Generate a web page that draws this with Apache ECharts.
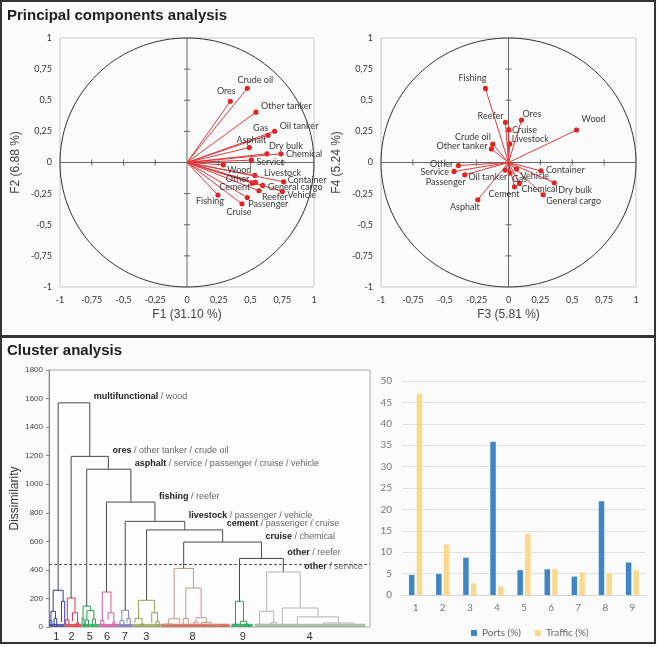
<!DOCTYPE html>
<html>
<head>
<meta charset="utf-8">
<script src="https://cdn.jsdelivr.net/npm/echarts@6/dist/echarts.min.js"></script>
<style>
  html, body { margin: 0; padding: 0; background: #fbfbfb; }
  #main { width: 659px; height: 647px; }
</style>
</head>
<body>
<div id="main"></div>
<script>
// PCA loadings (same order in all arrays)
var pcaNames = ['Crude oil', 'Ores', 'Other tanker', 'Oil tanker', 'Gas', 'Asphalt', 'Dry bulk', 'Chemical',
  'Service', 'Wood', 'Livestock', 'Container', 'Other', 'General cargo', 'Cement', 'Reefer', 'Vehicle',
  'Passenger', 'Cruise', 'Fishing'];
var f1 = [0.475, 0.341, 0.543, 0.690, 0.638, 0.491, 0.630, 0.740, 0.507, 0.286, 0.535, 0.761, 0.538, 0.596, 0.514, 0.567, 0.751, 0.475, 0.433, 0.244];
var f2 = [0.596, 0.492, 0.404, 0.251, 0.219, 0.120, 0.070, 0.070, 0.019, -0.019, -0.104, -0.155, -0.160, -0.184, -0.166, -0.227, -0.233, -0.281, -0.332, -0.262];
var f3 = [-0.123, 0.102, -0.134, -0.026, 0.013, -0.241, 0.359, 0.086, -0.427, 0.534, 0.010, 0.254, -0.393, 0.272, 0.047, -0.024, 0.063, -0.343, 0.003, -0.181];
var f4 = [0.147, 0.341, 0.109, -0.061, -0.085, -0.299, -0.163, -0.168, -0.072, 0.261, 0.149, -0.067, -0.024, -0.259, -0.195, 0.323, -0.053, -0.099, 0.264, 0.595];
var pcaTicks = [-1, -0.75, -0.5, -0.25, 0, 0.25, 0.5, 0.75, 1];

// label placement [align, dx, dy] per variable
var lab12 = [['center', 8, -8], ['center', -4, -10], ['left', 5, -6], ['left', 5, -5], ['right', 0, -7],
  ['center', 2, -7], ['left', 2, -8], ['left', 5, 0], ['left', 5, 2], ['left', 4, 5], ['left', 9, -2],
  ['left', 4, -2], ['right', -6, -3], ['left', 5, 2], ['right', -2, 4], ['left', 3, 6], ['left', 5, 4],
  ['left', 1, 7], ['center', -3, 8], ['center', -8, 6]];
var lab34 = [['right', -2, -7], ['left', 1, -6], ['right', -4, -3], ['right', 2, 7], ['left', 2, 6],
  ['right', 2, 7], ['left', 4, 7], ['left', 2, 6], ['right', -5, 1], ['left', 5, -11], ['left', 2, -5],
  ['left', 5, -1], ['right', -5, -1], ['left', 3, 6], ['right', 5, 7], ['right', -2, -6], ['left', 4, 7],
  ['right', 1, 7], ['left', 3, 0], ['right', 1, -10]];

// dendrogram: upper merges
var mergeHeights = [1570, 1195, 1105, 875, 740, 680, 595, 480, 385];
var mergeLeft = [2.85, 6.9, 11.75, 17.9, 23.75, 30.4, 41.95, 59.35, 67.8];
var mergeRight = [12.7, 18.5, 25.5, 33.0, 42.3, 54.1, 66.2, 73.0, 78.25];
var mergeLeftChild = [257, 203, 146, 245, 117, 187, 410, 180, 110];
var mergeRightChild = [1195, 1105, 875, 740, 680, 595, 480, 385, 133];
var mergeBold = ['multifunctional', 'ores', 'asphalt', 'fishing', 'livestock', 'cement', 'cruise', 'other', 'other'];
var mergeRest = ['wood', 'other tanker / crude oil', 'service / passenger / cruise / vehicle', 'reefer',
  'passenger / vehicle', 'passenger / cruise', 'chemical', 'reefer', 'service'];
var cutHeight = 440;

// clusters, left to right
var clusterNames = ['1', '2', '5', '6', '7', '3', '8', '9', '4'];
var clusterPos = [2.3, 7.0, 12.7, 18.1, 23.6, 30.3, 44.7, 60.4, 81.2];
var clusterStart = [0.2, 4.9, 10.1, 15.8, 21.5, 26.1, 35.1, 56.8, 64.0];
var clusterEnd = [4.9, 10.1, 15.8, 21.5, 26.1, 35.1, 56.3, 63.5, 98.5];
// [xLeft, hLeft, xRight, hRight, h, cluster]
var subLinks = [
  [1.3, 110, 4.4, 180, 257, 0], [0.6, 45, 2.0, 60, 110, 0], [3.9, 35, 4.9, 20, 180, 0], [1.6, 15, 2.4, 10, 60, 0], [0.3, 0, 0.9, 10, 45, 0],
  [5.7, 50, 8.1, 100, 203, 1], [5.2, 20, 6.2, 15, 50, 1], [7.3, 40, 8.9, 30, 100, 1], [8.6, 5, 9.2, 10, 30, 1],
  [10.6, 60, 12.9, 115, 146, 2], [10.3, 20, 10.9, 10, 60, 2], [11.8, 50, 14.0, 55, 115, 2], [13.5, 10, 14.5, 20, 55, 2], [11.3, 5, 12.3, 15, 50, 2],
  [16.6, 45, 19.3, 100, 245, 3], [16.1, 15, 17.1, 20, 45, 3], [18.4, 50, 20.2, 30, 100, 3], [19.8, 10, 20.6, 5, 30, 3],
  [22.7, 45, 24.8, 60, 117, 4], [22.1, 10, 23.3, 20, 45, 4], [24.3, 30, 25.3, 15, 60, 4],
  [27.9, 60, 32.9, 100, 187, 5], [26.8, 30, 29.0, 20, 60, 5], [32.0, 30, 33.8, 40, 100, 5], [28.5, 5, 29.5, 10, 20, 5], [33.3, 10, 34.3, 5, 40, 5],
  [39.0, 58, 45.0, 273, 410, 6], [37.3, 20, 40.7, 25, 58, 6], [36.0, 5, 38.6, 10, 20, 6], [42.6, 60, 47.4, 65, 273, 6], [41.8, 10, 43.4, 15, 60, 6],
  [45.8, 35, 49.0, 32, 65, 6], [45.2, 5, 46.4, 10, 35, 6], [47.5, 10, 50.5, 15, 32, 6], [49.5, 5, 53.0, 8, 15, 6],
  [58.1, 20, 60.6, 40, 180, 7], [57.4, 5, 58.8, 10, 20, 7], [59.6, 15, 61.6, 20, 40, 7], [61.0, 5, 62.2, 0, 20, 7],
  [65.6, 20, 70.0, 30, 110, 8], [64.8, 5, 66.4, 10, 20, 8], [69.0, 10, 71.0, 15, 30, 8], [72.7, 15, 83.8, 71, 133, 8], [71.8, 0, 73.6, 5, 15, 8],
  [77.4, 10, 90.2, 28, 71, 8], [76.6, 0, 78.2, 5, 10, 8], [85.5, 15, 94.9, 10, 28, 8], [93.5, 0, 96.3, 5, 10, 8]
];
var clusterColors = ['#34409a', '#e0304a', '#22a052', '#d45aa6', '#8282b4', '#95a05a', '#c99585', '#22a052', '#b4b4b4'];
var clusterBase = ['#2a2f8f', '#e0203a', '#12a048', '#d0409c', '#6a6aa8', '#8c9a40', '#cf4a34', '#12a048', '#9aa89a'];

// bar chart
var barCats = ['1', '2', '3', '4', '5', '6', '7', '8', '9'];
var ports = [4.7, 4.9, 8.7, 35.8, 5.8, 6.0, 4.3, 21.9, 7.6];
var traffic = [47.0, 11.8, 2.7, 2.0, 14.3, 6.0, 5.3, 5.1, 5.8];

var chart = echarts.init(document.getElementById('main'));

function fmtComma(v) { return String(v).replace('.', ','); }

function frameRender(params, api) {
  var c = [];
  var pts = [];
  for (var i = 0; i <= 144; i++) {
    var a = i / 144 * 2 * Math.PI;
    pts.push(api.coord([Math.cos(a), Math.sin(a)]));
  }
  c.push({ type: 'polyline', shape: { points: pts }, style: { stroke: '#333', fill: null, lineWidth: 1 } });
  var l = api.coord([-1, 0]), r = api.coord([1, 0]), b = api.coord([0, -1]), t = api.coord([0, 1]);
  c.push({ type: 'line', shape: { x1: l[0], y1: l[1], x2: r[0], y2: r[1] }, style: { stroke: '#666', lineWidth: 1 } });
  c.push({ type: 'line', shape: { x1: b[0], y1: b[1], x2: t[0], y2: t[1] }, style: { stroke: '#666', lineWidth: 1 } });
  pcaTicks.forEach(function (v) {
    if (v === 0 || Math.abs(v) === 1) return;
    var p = api.coord([v, 0]);
    c.push({ type: 'line', shape: { x1: p[0], y1: p[1] - 3, x2: p[0], y2: p[1] + 3 }, style: { stroke: '#666', lineWidth: 1 } });
    var q = api.coord([0, v]);
    c.push({ type: 'line', shape: { x1: q[0] - 3, y1: q[1], x2: q[0] + 3, y2: q[1] }, style: { stroke: '#666', lineWidth: 1 } });
  });
  return { type: 'group', children: c };
}

function vectorRender(labels) {
  return function (params, api) {
    var i = api.value(2);
    var o = api.coord([0, 0]);
    var p = api.coord([api.value(0), api.value(1)]);
    var lp = labels[i];
    return {
      type: 'group',
      children: [
        { type: 'line', shape: { x1: o[0], y1: o[1], x2: p[0], y2: p[1] }, style: { stroke: '#e23b3b', lineWidth: 1 } },
        { type: 'circle', shape: { cx: p[0], cy: p[1], r: 2.6 }, style: { fill: '#e02424' } },
        { type: 'text', x: p[0] + lp[1], y: p[1] + lp[2], z2: 5,
          style: { text: pcaNames[i], align: lp[0], verticalAlign: 'middle', fontSize: 9, fontFamily: 'Lato', fill: '#3a3a3a' } }
      ]
    };
  };
}

function linkRender(colorFn) {
  return function (params, api) {
    var xl = api.value(0), hl = api.value(1), xr = api.value(2), hr = api.value(3), h = api.value(4);
    var pts = [[xl, hl], [xl, h], [xr, h], [xr, hr]].map(function (p) { return api.coord(p); });
    return { type: 'polyline', shape: { points: pts }, style: { stroke: colorFn(api), fill: null, lineWidth: 1 } };
  };
}

function pcaX(gi, name) {
  return {
    gridIndex: gi, type: 'value', min: -1, max: 1, interval: 0.25,
    name: name, nameLocation: 'middle', nameGap: 22,
    nameTextStyle: { fontSize: 12, color: '#444', fontFamily: 'Liberation Sans' },
    axisLine: { show: false, onZero: false }, axisTick: { show: false }, splitLine: { show: false },
    axisLabel: { formatter: fmtComma, fontSize: 9, color: '#333', margin: 9, fontFamily: 'Lato' }
  };
}
function pcaY(gi, name) {
  return {
    gridIndex: gi, type: 'value', min: -1, max: 1, interval: 0.25,
    name: name, nameLocation: 'middle', nameGap: 38,
    nameTextStyle: { fontSize: 12, color: '#444', fontFamily: 'Liberation Sans' },
    axisLine: { show: false, onZero: false }, axisTick: { show: false }, splitLine: { show: false },
    axisLabel: { formatter: fmtComma, fontSize: 9, color: '#333', margin: 8, fontFamily: 'Lato' }
  };
}

var option = {
  backgroundColor: '#fbfbfb',
  animation: false,
  title: [
    { text: 'Principal components analysis', left: 7, top: 8, padding: 0,
      textStyle: { fontSize: 15, fontWeight: 'bold', color: '#1e1e1e', fontFamily: 'Liberation Sans' } },
    { text: 'Cluster analysis', left: 7, top: 343, padding: 0,
      textStyle: { fontSize: 15, fontWeight: 'bold', color: '#1e1e1e', fontFamily: 'Liberation Sans' } }
  ],
  graphic: [
    { type: 'rect', shape: { x: 1, y: 1, width: 654, height: 335 }, style: { fill: null, stroke: '#333', lineWidth: 2 }, silent: true },
    { type: 'rect', shape: { x: 1, y: 337, width: 654, height: 306 }, style: { fill: null, stroke: '#333', lineWidth: 2 }, silent: true }
  ],
  grid: [
    { left: 60, top: 38, width: 254, height: 249, show: true, borderColor: '#c8c8c8', backgroundColor: 'transparent' },
    { left: 381, top: 38, width: 255, height: 249, show: true, borderColor: '#c8c8c8', backgroundColor: 'transparent' },
    { left: 49, top: 370, width: 321, height: 257, show: true, borderColor: '#aaa', backgroundColor: '#fdfdfd' },
    { left: 402, top: 381, width: 244, height: 214 }
  ],
  legend: {
    data: ['Ports (%)', 'Traffic (%)'], left: 466, top: 623, itemWidth: 6, itemHeight: 6, itemGap: 14,
    icon: 'rect', textStyle: { fontSize: 10, color: '#666', fontFamily: 'Lato' }
  },
  xAxis: [
    pcaX(0, 'F1 (31.10 %)'),
    pcaX(1, 'F3 (5.81 %)'),
    { gridIndex: 2, type: 'value', min: 0, max: 100, show: false },
    { gridIndex: 3, type: 'category', data: barCats,
      axisLine: { lineStyle: { color: '#d4d4d4' } }, axisTick: { show: false },
      axisLabel: { fontSize: 10, color: '#777', margin: 8, fontFamily: 'Lato' } }
  ],
  yAxis: [
    pcaY(0, 'F2 (6.88 %)'),
    pcaY(1, 'F4 (5.24 %)'),
    { gridIndex: 2, type: 'value', min: 0, max: 1800, interval: 200,
      name: 'Dissimilarity', nameLocation: 'middle', nameGap: 28,
      nameTextStyle: { fontSize: 12, color: '#333', fontFamily: 'Liberation Sans' },
      axisLine: { show: true, lineStyle: { color: '#888' } }, axisTick: { show: true, length: 3, lineStyle: { color: '#888' } },
      splitLine: { show: false },
      axisLabel: { formatter: function (v) { return String(v); }, fontSize: 8, color: '#444', margin: 6, fontFamily: 'Liberation Sans' } },
    { gridIndex: 3, type: 'value', min: 0, max: 50, interval: 5,
      axisLine: { show: false }, axisTick: { show: false },
      splitLine: { lineStyle: { color: '#e2e2e2' } },
      axisLabel: { fontSize: 10, color: '#777', margin: 10, fontFamily: 'Lato' } }
  ],
  series: [
    { type: 'custom', xAxisIndex: 0, yAxisIndex: 0, data: [[0, 0]], renderItem: frameRender, silent: true },
    { type: 'custom', xAxisIndex: 1, yAxisIndex: 1, data: [[0, 0]], renderItem: frameRender, silent: true },
    { type: 'custom', xAxisIndex: 0, yAxisIndex: 0, clip: false, z: 3,
      data: pcaNames.map(function (n, i) { return [f1[i], f2[i], i]; }), renderItem: vectorRender(lab12) },
    { type: 'custom', xAxisIndex: 1, yAxisIndex: 1, clip: false, z: 3,
      data: pcaNames.map(function (n, i) { return [f3[i], f4[i], i]; }), renderItem: vectorRender(lab34) },

    // dendrogram leaf bands
    { type: 'custom', xAxisIndex: 2, yAxisIndex: 2, silent: true,
      data: clusterNames.map(function (n, i) { return [clusterStart[i], clusterEnd[i], i]; }),
      renderItem: function (params, api) {
        var i = api.value(2);
        var a = api.coord([api.value(0), 22]), b = api.coord([api.value(1), 0]);
        return { type: 'rect', shape: { x: a[0], y: a[1], width: b[0] - a[0], height: b[1] - a[1] },
          style: { fill: clusterBase[i], opacity: 0.75 } };
      } },
    // cluster sub-trees
    { type: 'custom', xAxisIndex: 2, yAxisIndex: 2, silent: true, data: subLinks,
      renderItem: linkRender(function (api) { return clusterColors[api.value(5)]; }) },
    // upper merges + cut line
    { type: 'custom', xAxisIndex: 2, yAxisIndex: 2, silent: true,
      data: mergeHeights.map(function (h, i) { return [mergeLeft[i], mergeLeftChild[i], mergeRight[i], mergeRightChild[i], h, i]; }),
      renderItem: linkRender(function (api) { return api.value(5) === 8 ? '#b4b4b4' : '#4a4a4a'; }),
      markLine: { silent: true, symbol: 'none', label: { show: false },
        lineStyle: { color: '#555', type: [3, 2], width: 1 }, data: [{ yAxis: cutHeight }] } },
    // merge labels
    { type: 'custom', xAxisIndex: 2, yAxisIndex: 2, silent: true, clip: false, z: 4,
      data: mergeHeights.map(function (h, i) { return [mergeRight[i], h, i]; }),
      renderItem: function (params, api) {
        var i = api.value(2);
        var p = api.coord([api.value(0), api.value(1)]);
        return { type: 'text', x: p[0] + 4, y: p[1] - 6,
          style: { text: '{b|' + mergeBold[i] + '} / ' + mergeRest[i], verticalAlign: 'middle', align: 'left',
            fontSize: 9, fontFamily: 'Liberation Sans', fill: '#666',
            rich: { b: { fontWeight: 'bold', fontSize: 9, fontFamily: 'Liberation Sans', fill: '#222' } } } };
      } },
    // cluster numbers
    { type: 'custom', xAxisIndex: 2, yAxisIndex: 2, silent: true, clip: false,
      data: clusterNames.map(function (n, i) { return [clusterPos[i], 0, i]; }),
      renderItem: function (params, api) {
        var p = api.coord([api.value(0), api.value(1)]);
        return { type: 'text', x: p[0], y: p[1] + 10,
          style: { text: clusterNames[api.value(2)], align: 'center', verticalAlign: 'middle',
            fontSize: 11, fontFamily: 'Liberation Sans', fill: '#333' } };
      } },

    { name: 'Ports (%)', type: 'bar', xAxisIndex: 3, yAxisIndex: 3, data: ports,
      barWidth: 5.5, barGap: '40%', itemStyle: { color: '#3f86c6' } },
    { name: 'Traffic (%)', type: 'bar', xAxisIndex: 3, yAxisIndex: 3, data: traffic,
      barWidth: 5.5, barGap: '40%', itemStyle: { color: '#fbd98c' } }
  ]
};

chart.setOption(option);
</script>
</body>
</html>
